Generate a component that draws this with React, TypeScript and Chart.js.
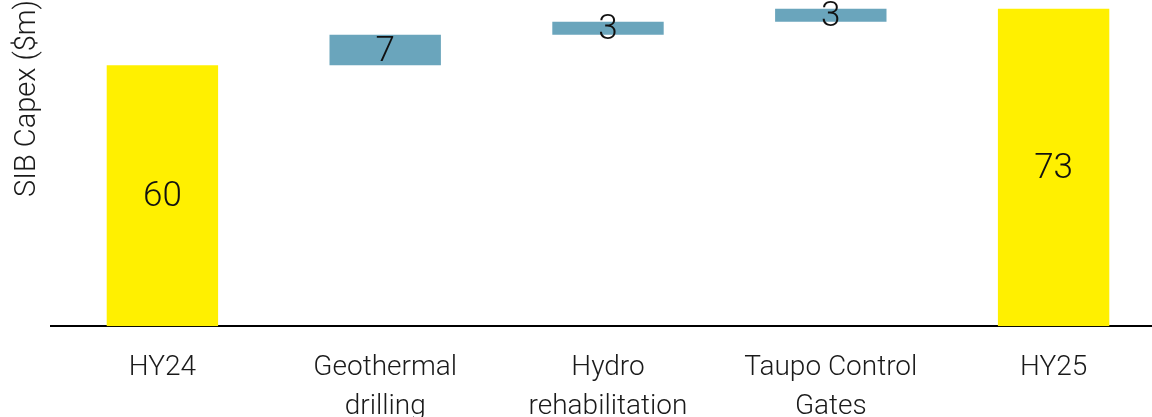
import React, { useEffect, useRef } from 'react';
import { Chart, registerables } from 'chart.js';

Chart.register(...registerables);

const categories: string[][] = [
  ['HY24'],
  ['Geothermal', 'drilling'],
  ['Hydro', 'rehabilitation'],
  ['Taupo Control', 'Gates'],
  ['HY25'],
];
const startValue = 60;
const deltas = [7, 3, 3];
const endValue = 73;
const yMin = 0;
const yMax = 75;
const yTitle = 'SIB Capex ($m)';

const totalColor = '#FFF000';
const deltaColor = '#6AA5BC';
const fontFamily = 'Roboto, "Open Sans", sans-serif';

function buildRanges(): [number, number][] {
  const out: [number, number][] = [[0, startValue]];
  let cum = startValue;
  deltas.forEach((d) => {
    out.push([cum, cum + d]);
    cum += d;
  });
  out.push([0, endValue]);
  return out;
}
const labelValues = [startValue, ...deltas, endValue];

const barLabels = {
  id: 'barLabels',
  afterDatasetsDraw(chart: any) {
    const meta = chart.getDatasetMeta(0);
    const ctx = chart.ctx;
    ctx.save();
    ctx.font = `300 35px ${fontFamily}`;
    ctx.fillStyle = '#111111';
    ctx.textAlign = 'center';
    ctx.textBaseline = 'middle';
    meta.data.forEach((bar: any, i: number) => {
      const { x, y, base } = bar.getProps(['x', 'y', 'base'], true);
      ctx.fillText(String(labelValues[i]), x, (y + base) / 2 + 2);
    });
    ctx.restore();
  },
};

export default function App() {
  const ref = useRef<HTMLCanvasElement | null>(null);
  useEffect(() => {
    if (!ref.current) return;
    const ranges = buildRanges();
    const colors = ranges.map((_, i) => (i === 0 || i === ranges.length - 1 ? totalColor : deltaColor));
    const chart = new Chart(ref.current, {
      type: 'bar',
      data: {
        labels: categories,
        datasets: [
          {
            data: ranges as any,
            backgroundColor: colors,
            borderWidth: 0,
            barPercentage: 0.5,
            categoryPercentage: 1.0,
          },
        ],
      },
      options: {
        responsive: false,
        animation: false,
        devicePixelRatio: 1,
        layout: { padding: 0 },
        plugins: {
          legend: { display: false },
          tooltip: { enabled: false },
        },
        scales: {
          x: {
            grid: { display: false, drawTicks: false },
            border: { display: true, color: '#000000', width: 2 },
            ticks: {
              color: '#1a1a1a',
              padding: 22,
              font: { family: fontFamily, size: 28, weight: '300' as any, lineHeight: 1.39 },
              maxRotation: 0,
              autoSkip: false,
            },
          },
          y: {
            min: yMin,
            max: yMax,
            grid: { display: false, drawTicks: false },
            border: { display: false },
            ticks: { display: false },
            title: {
              display: true,
              text: yTitle,
              align: 'end',
              color: '#1a1a1a',
              font: { family: fontFamily, size: 29, weight: '300' as any, lineHeight: 1.2 },
              padding: { top: 10, bottom: 0 },
            },
            afterFit: (scale: any) => {
              scale.width = 51;
            },
          },
        },
      },
      plugins: [barLabels],
    });
    return () => chart.destroy();
  }, []);

  return (
    <div
      style={{
        position: 'fixed',
        left: 0,
        top: 0,
        width: 1152,
        height: 417,
        overflow: 'hidden',
        background: '#ffffff',
      }}
    >
      <canvas ref={ref} width={1165} height={448} style={{ display: 'block' }} />
    </div>
  );
}
